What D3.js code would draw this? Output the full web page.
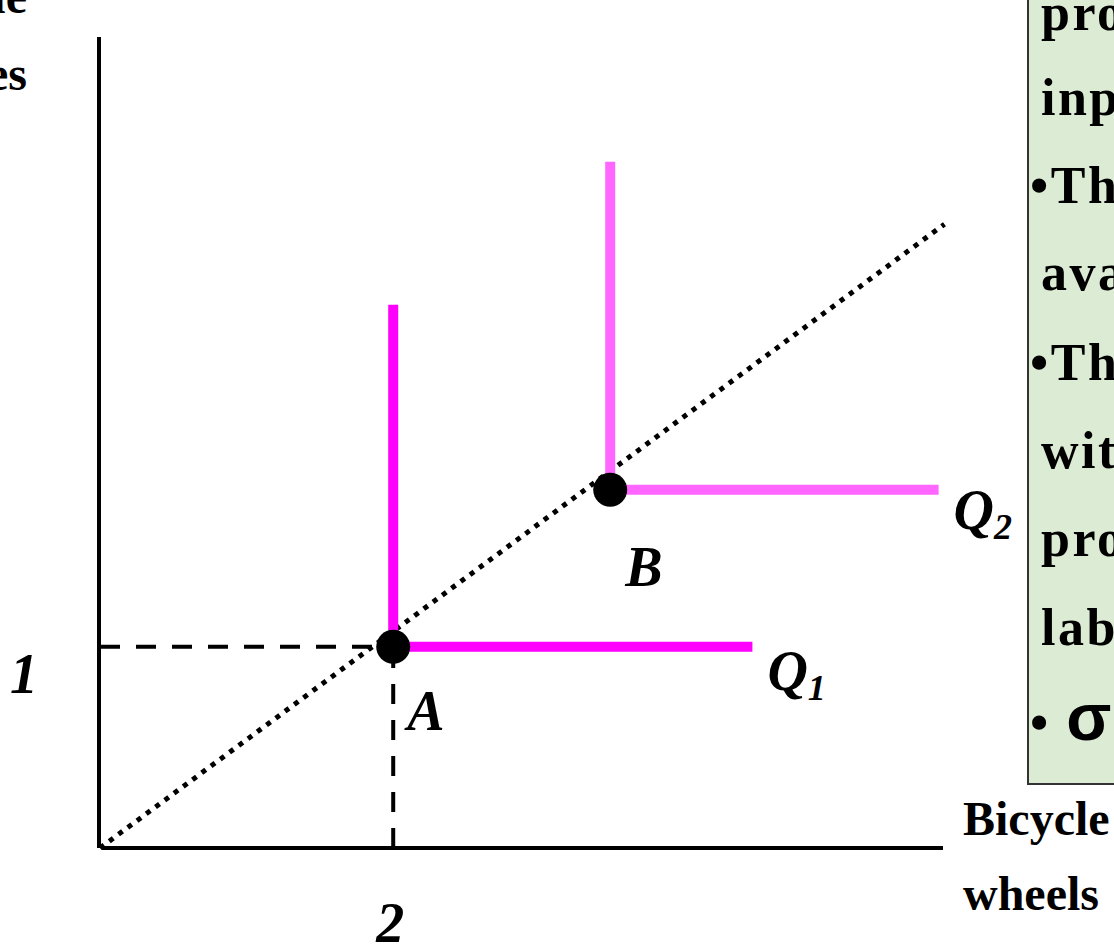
<!DOCTYPE html>
<html>
<head>
<meta charset="utf-8">
<script src="https://cdn.jsdelivr.net/npm/d3@7"></script>
<style>
  html, body { margin: 0; padding: 0; background: #fff; overflow: hidden; }
  svg { display: block; font-family: "Liberation Serif", "Times New Roman", serif; }
</style>
</head>
<body>
<div id="chart"></div>
<script>
// points on the expansion path (wheels, frames)
const pointNames = ['A', 'B'];
const pointX = [2, 3.48];
const pointY = [1, 1.78];

// isoquants: corner point, top of vertical arm, end of horizontal arm
const isoNames = ['Q1', 'Q2'];
const isoTop = [2.70, 3.41];
const isoRight = [4.45, 5.72];
const isoColors = ['#ff00ff', '#ff66ff'];

// ray from origin
const rayEnd = [5.76, 3.10];

const xTickLabels = ['2'];
const yTickLabels = ['1'];

const boxLines = ['production', 'inputs', '\u2022There', 'available', '\u2022The', 'with', 'proportions', 'labor', '\u2022 \u03c3 = 0'];
const boxBaselines = [30, 115, 203, 290, 380, 468, 556, 645, 740];

const W = 1114, H = 945;
const svg = d3.select('#chart').append('svg')
    .attr('width', W)
    .attr('height', H);

const x = d3.scaleLinear().domain([0, 5.75]).range([100, 943]);
const y = d3.scaleLinear().domain([0, 4.03]).range([848, 37]);

// axes as plain lines
svg.append('line')
    .attr('x1', x(0) - 1).attr('x2', x(0) - 1)
    .attr('y1', y(4.03)).attr('y2', y(0))
    .attr('stroke', '#000').attr('stroke-width', 4);
svg.append('line')
    .attr('x1', x(0) + 2).attr('x2', x(5.75))
    .attr('y1', y(0)).attr('y2', y(0))
    .attr('stroke', '#000').attr('stroke-width', 4);

// dashed guides to point A
svg.append('line')
    .attr('x1', x(0)).attr('x2', x(pointX[0]))
    .attr('y1', y(pointY[0])).attr('y2', y(pointY[0]))
    .attr('stroke', '#000').attr('stroke-width', 4)
    .attr('stroke-dasharray', '20 16');
svg.append('line')
    .attr('x1', x(pointX[0])).attr('x2', x(pointX[0]))
    .attr('y1', y(0)).attr('y2', y(pointY[0]))
    .attr('stroke', '#000').attr('stroke-width', 4)
    .attr('stroke-dasharray', '20 16');

// dotted ray
svg.append('line')
    .attr('x1', x(0)).attr('y1', y(0))
    .attr('x2', x(rayEnd[0])).attr('y2', y(rayEnd[1]))
    .attr('stroke', '#000').attr('stroke-width', 5)
    .attr('stroke-dasharray', '5 6.5');

// isoquants
isoNames.forEach((name, i) => {
    const cx = x(pointX[i]), cy = y(pointY[i]);
    svg.append('path')
        .attr('d', `M${cx},${y(isoTop[i])}L${cx},${cy}L${x(isoRight[i])},${cy}`)
        .attr('fill', 'none')
        .attr('stroke', isoColors[i])
        .attr('stroke-width', 10);
});

// points
svg.selectAll('circle.pt')
    .data(pointNames)
    .join('circle')
    .attr('class', 'pt')
    .attr('cx', (d, i) => x(pointX[i]))
    .attr('cy', (d, i) => y(pointY[i]))
    .attr('r', 17)
    .attr('fill', '#000');

const italic = sel => sel
    .attr('font-style', 'italic')
    .attr('font-weight', 'bold')
    .attr('font-size', 56)
    .attr('fill', '#000');

// point labels
const labelOffsets = [[14, 83], [15, 96]];
pointNames.forEach((name, i) => {
    svg.append('text')
        .attr('x', x(pointX[i]) + labelOffsets[i][0])
        .attr('y', y(pointY[i]) + labelOffsets[i][1])
        .call(italic)
        .text(name);
});

// isoquant labels
const isoLabelOffsets = [[15, 43], [15, 39]];
isoNames.forEach((name, i) => {
    const t = svg.append('text')
        .attr('x', x(isoRight[i]) + isoLabelOffsets[i][0])
        .attr('y', y(pointY[i]) + isoLabelOffsets[i][1])
        .call(italic);
    t.append('tspan').text(name[0]);
    t.append('tspan').attr('font-size', 36).attr('dy', 10).text(name.slice(1));
});

// tick labels
svg.append('text')
    .attr('x', 24).attr('y', y(1) + 46)
    .attr('text-anchor', 'middle')
    .call(italic)
    .text(yTickLabels[0]);
svg.append('text')
    .attr('x', x(2) - 3).attr('y', y(0) + 94)
    .attr('text-anchor', 'middle')
    .call(italic)
    .text(xTickLabels[0]);

// axis titles
const yTitle = svg.append('text')
    .attr('text-anchor', 'end')
    .attr('font-weight', 'bold')
    .attr('font-size', 48);
yTitle.append('tspan').attr('x', 27).attr('y', 13).text('Bicycle');
yTitle.append('tspan').attr('x', 27).attr('y', 90).text('frames');

const xTitle = svg.append('text')
    .attr('font-weight', 'bold')
    .attr('font-size', 48);
xTitle.append('tspan').attr('x', 963).attr('y', 835).text('Bicycle');
xTitle.append('tspan').attr('x', 963).attr('y', 910).text('wheels');

// note box on the right
svg.append('rect')
    .attr('x', 1028).attr('y', -5)
    .attr('width', 120).attr('height', 789)
    .attr('fill', '#dcebd4')
    .attr('stroke', '#333')
    .attr('stroke-width', 2);

const notes = svg.selectAll('text.note')
    .data(boxLines)
    .join('text')
    .attr('class', 'note')
    .attr('x', d => d.startsWith('\u2022') ? 1030 : 1041)
    .attr('y', (d, i) => boxBaselines[i])
    .attr('font-weight', 'bold')
    .attr('font-size', 52)
    .attr('letter-spacing', 2.5);

notes.each(function(d) {
    const t = d3.select(this);
    if (d.includes('\u03c3')) {
        t.append('tspan').text('\u2022 ');
        t.append('tspan')
            .attr('font-family', '"Liberation Sans", Arial, sans-serif')
            .attr('font-size', 66)
            .text(d.slice(2));
    } else {
        t.text(d);
    }
});
</script>
</body>
</html>
